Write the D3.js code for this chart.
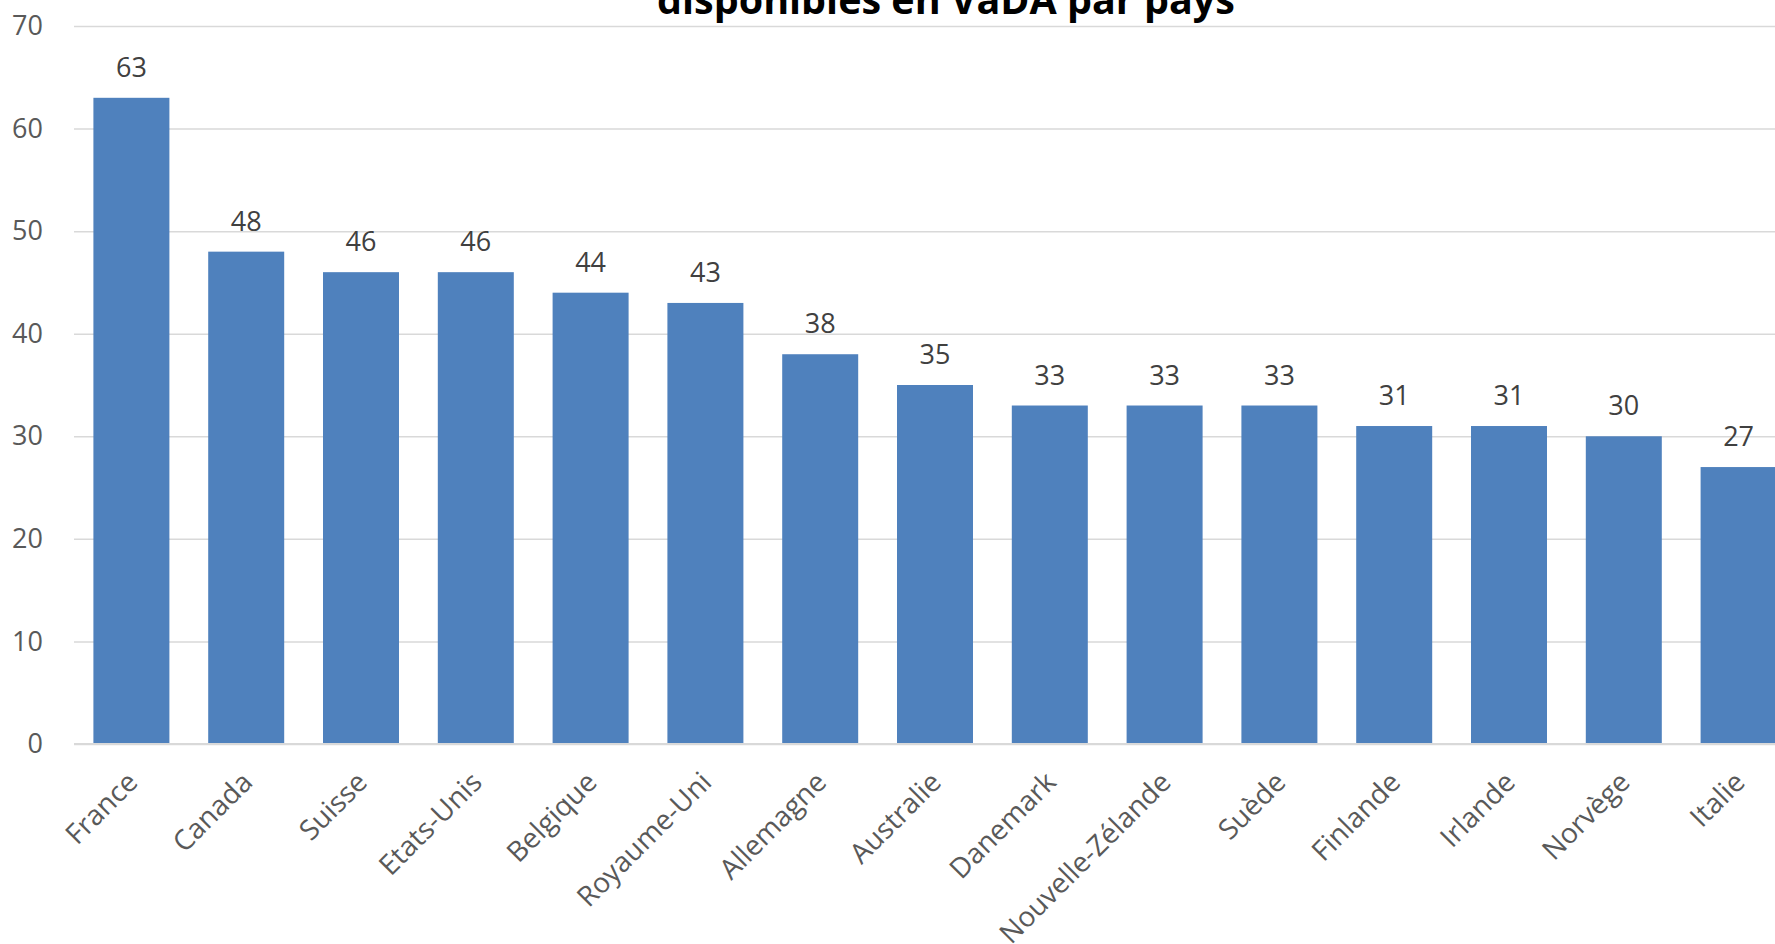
<!DOCTYPE html>
<html>
<head>
<meta charset="utf-8">
<script src="https://cdn.jsdelivr.net/npm/d3@7"></script>
<style>
  body { margin: 0; background: #fff; }
  svg { display: block; font-family: "Open Sans", sans-serif; }
</style>
</head>
<body>
<div id="chart"></div>
<script>
// chart data
const countries = ["France", "Canada", "Suisse", "Etats-Unis", "Belgique", "Royaume-Uni", "Allemagne",
  "Australie", "Danemark", "Nouvelle-Zélande", "Suède", "Finlande", "Irlande", "Norvège", "Italie"];
const values = [63, 48, 46, 46, 44, 43, 38, 35, 33, 33, 33, 31, 31, 30, 27];
const yTicks = [0, 10, 20, 30, 40, 50, 60, 70];
const titleText = "disponibles en VaDA par pays";

const width = 1775;
const height = 944;
const margin = {left: 74, top: 26, bottom: 200};
const plotRight = 1796;   // the plot runs past the right edge (cropped)

const svg = d3.select("#chart")
  .append("svg")
  .attr("width", width)
  .attr("height", height);

// scales
const x = d3.scaleBand()
  .domain(countries)
  .range([margin.left, plotRight])
  .paddingInner(0.338)
  .paddingOuter(0.169);

const y = d3.scaleLinear()
  .domain([0, 70])
  .range([height - margin.bottom, margin.top]);

// gridlines + y labels
const yAxis = svg.append("g")
  .attr("transform", `translate(${margin.left},0)`)
  .call(d3.axisLeft(y).tickValues(yTicks).tickSize(-(plotRight - margin.left)).tickPadding(31));
yAxis.select(".domain").remove();
yAxis.selectAll(".tick line").attr("stroke", "#d9d9d9").attr("stroke-width", 1.5);
yAxis.selectAll(".tick text")
  .attr("fill", "#595959")
  .attr("font-size", "27px")
  .attr("font-family", "Open Sans, sans-serif");

// bars
svg.selectAll(".bar")
  .data(values)
  .enter()
  .append("rect")
    .attr("class", "bar")
    .attr("x", (d, i) => x(countries[i]))
    .attr("y", d => y(d))
    .attr("width", x.bandwidth())
    .attr("height", d => y(0) - y(d))
    .attr("fill", "#4f81bd");

// horizontal axis line on top of bars
svg.append("line")
  .attr("x1", margin.left).attr("x2", plotRight)
  .attr("y1", y(0)).attr("y2", y(0))
  .attr("stroke", "#d9d9d9")
  .attr("stroke-width", 2);

// value labels
svg.selectAll(".val")
  .data(values)
  .enter()
  .append("text")
    .attr("class", "val")
    .attr("x", (d, i) => x(countries[i]) + x.bandwidth() / 2)
    .attr("y", d => y(d) - 21)
    .attr("text-anchor", "middle")
    .attr("font-size", "27px")
    .attr("fill", "#404040")
    .text(d => d);

// category labels, rotated
svg.selectAll(".cat")
  .data(countries)
  .enter()
  .append("text")
    .attr("class", "cat")
    .attr("transform", d => `translate(${x(d) + x.bandwidth() / 2 + 1},${y(0) + 33}) rotate(-45)`)
    .attr("text-anchor", "end")
    .attr("dy", "0.35em")
    .attr("font-size", "28px")
    .attr("fill", "#595959")
    .text(d => d);

// title (second line only is visible)
const title = svg.append("text")
  .attr("x", 946)
  .attr("y", 14)
  .attr("text-anchor", "middle")
  .attr("font-weight", "bold")
  .attr("font-size", "30px")
  .attr("fill", "#000")
  .text(titleText);
const tw = title.node().getComputedTextLength();
title.attr("font-size", (30 * 578 / tw) + "px");
</script>
</body>
</html>
